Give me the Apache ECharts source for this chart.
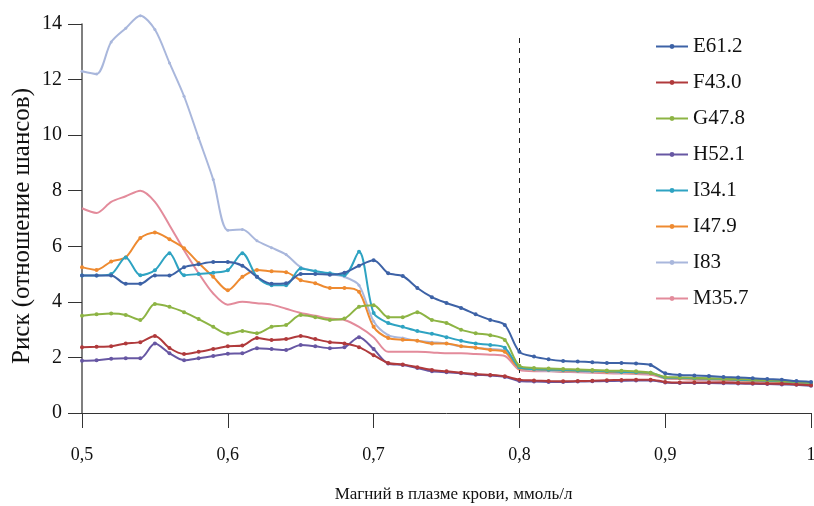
<!DOCTYPE html>
<html>
<head>
<meta charset="utf-8">
<script src="https://cdn.jsdelivr.net/npm/echarts@6/dist/echarts.min.js"></script>
<style>html,body{margin:0;padding:0;background:#fff}#chart{width:814px;height:506px}</style>
</head>
<body>
<div id="chart"></div>
<script>
const magnesium = [0.50,0.51,0.52,0.53,0.54,0.55,0.56,0.57,0.58,0.59,0.60,0.61,0.62,0.63,0.64,0.65,0.66,0.67,0.68,0.69,0.70,0.71,0.72,0.73,0.74,0.75,0.76,0.77,0.78,0.79,0.80,0.81,0.82,0.83,0.84,0.85,0.86,0.87,0.88,0.89,0.90,0.91,0.92,0.93,0.94,0.95,0.96,0.97,0.98,0.99,1.00];

const E61_2 = [4.95,4.95,4.95,4.65,4.65,4.95,4.95,5.25,5.35,5.43,5.43,5.3,4.9,4.65,4.67,5.0,5.0,4.98,5.05,5.3,5.5,5.03,4.93,4.5,4.17,3.96,3.78,3.55,3.35,3.17,2.2,2.03,1.93,1.87,1.85,1.83,1.8,1.8,1.78,1.73,1.43,1.37,1.35,1.33,1.3,1.28,1.25,1.22,1.2,1.15,1.12];
const F43_0 = [2.37,2.38,2.4,2.5,2.55,2.77,2.34,2.12,2.2,2.3,2.4,2.43,2.7,2.63,2.66,2.77,2.66,2.55,2.5,2.37,2.08,1.8,1.75,1.65,1.55,1.5,1.45,1.4,1.37,1.32,1.2,1.17,1.15,1.14,1.15,1.16,1.18,1.19,1.2,1.2,1.12,1.1,1.1,1.1,1.1,1.08,1.07,1.06,1.05,1.03,1.0];
const G47_8 = [3.5,3.55,3.58,3.53,3.35,3.92,3.82,3.63,3.38,3.1,2.85,2.95,2.87,3.1,3.17,3.53,3.45,3.35,3.4,3.82,3.88,3.45,3.45,3.63,3.35,3.24,3.0,2.87,2.8,2.63,1.7,1.62,1.6,1.58,1.57,1.55,1.53,1.52,1.5,1.45,1.3,1.28,1.27,1.25,1.23,1.22,1.2,1.18,1.15,1.12,1.08];
const H52_1 = [1.88,1.9,1.95,1.97,1.97,2.5,2.15,1.9,1.97,2.05,2.13,2.15,2.33,2.3,2.27,2.45,2.4,2.33,2.37,2.73,2.3,1.78,1.73,1.62,1.5,1.47,1.43,1.38,1.35,1.3,1.15,1.13,1.12,1.12,1.13,1.14,1.15,1.16,1.17,1.17,1.1,1.08,1.08,1.08,1.07,1.06,1.05,1.04,1.03,1.02,0.98];
const I34_1 = [4.95,4.95,5.0,5.6,4.96,5.14,5.75,4.96,5.0,5.05,5.14,5.75,4.9,4.6,4.6,5.2,5.1,5.03,4.96,5.8,3.6,3.24,3.1,2.95,2.85,2.73,2.6,2.5,2.45,2.35,1.65,1.58,1.56,1.55,1.53,1.52,1.5,1.48,1.47,1.45,1.28,1.27,1.25,1.24,1.22,1.2,1.18,1.16,1.14,1.11,1.08];
const I47_9 = [5.25,5.15,5.45,5.6,6.3,6.5,6.25,5.93,5.4,4.9,4.42,4.9,5.15,5.1,5.07,4.78,4.67,4.5,4.5,4.36,3.1,2.7,2.64,2.6,2.5,2.5,2.4,2.35,2.27,2.2,1.62,1.57,1.55,1.53,1.52,1.5,1.48,1.47,1.45,1.43,1.27,1.25,1.23,1.22,1.2,1.18,1.16,1.14,1.12,1.1,1.06];
const I83 = [12.3,12.2,13.35,13.85,14.3,13.8,12.6,11.4,9.9,8.4,6.58,6.6,6.2,5.95,5.7,5.25,5.1,5.0,4.9,4.6,3.3,2.8,2.7,2.6,2.55,2.5,2.4,2.35,2.3,2.25,1.6,1.55,1.52,1.5,1.5,1.48,1.47,1.45,1.43,1.42,1.26,1.24,1.22,1.2,1.19,1.17,1.15,1.13,1.11,1.08,1.05];
const M35_7 = [7.37,7.2,7.6,7.8,8.0,7.6,6.76,5.86,5.03,4.3,3.9,4.0,3.95,3.9,3.75,3.6,3.5,3.4,3.35,3.1,2.73,2.2,2.2,2.2,2.18,2.15,2.15,2.12,2.1,2.05,1.55,1.5,1.5,1.48,1.47,1.45,1.43,1.42,1.4,1.38,1.25,1.22,1.2,1.18,1.16,1.15,1.13,1.12,1.1,1.07,1.03];

const seriesNames = ['E61.2','F43.0','G47.8','H52.1','I34.1','I47.9','I83','M35.7'];
const seriesValues = [E61_2,F43_0,G47_8,H52_1,I34_1,I47_9,I83,M35_7];
const xTickLabels = {0.5:'0,5',0.6:'0,6',0.7:'0,7',0.8:'0,8',0.9:'0,9',1:'1'};
const yTicks = [0,2,4,6,8,10,12,14];
const thresholdX = 0.8;
const thresholdTop = 13.6;
const xTitle = 'Магний в плазме крови, ммоль/л';
const yTitle = 'Риск (отношение шансов)';

const colors = ['#3d62a6','#b03a3c','#8db444','#6757a3','#2ea3c2','#ee8a30','#a9b7dc','#e38b9b'];
const serif = '"Liberation Serif","DejaVu Serif",serif';

const series = seriesNames.map((name, i) => ({
  name: name,
  type: 'line',
  data: magnesium.map((x, j) => [x, seriesValues[i][j]]),
  smooth: 0.3,
  clip: false,
  symbol: 'circle',
  symbolSize: name === 'I83' ? 3 : 4,
  showSymbol: name !== 'M35.7',
  lineStyle: {width: 2, color: colors[i]},
  itemStyle: {color: colors[i]},
  z: 10 - i
}));
series[0].markLine = {
  silent: true,
  symbol: ['none','none'],
  label: {show: false},
  lineStyle: {type: [5,5], color: '#222', width: 1},
  data: [[{coord: [thresholdX, 0]}, {coord: [thresholdX, thresholdTop]}]]
};

const chart = echarts.init(document.getElementById('chart'), null, {renderer: 'canvas'});
chart.setOption({
  backgroundColor: '#fff',
  animation: false,
  color: colors,
  grid: {left: 82, right: 3, top: 24, bottom: 93, containLabel: false, outerBoundsMode: 'none'},
  legend: {
    orient: 'vertical',
    left: 650,
    top: 31,
    itemWidth: 32,
    itemHeight: 6,
    itemGap: 15,
    textStyle: {fontFamily: serif, fontSize: 21, color: '#111'},
    data: seriesNames
  },
  graphic: [{
    type: 'text',
    x: 22,
    y: 226,
    rotation: Math.PI / 2,
    style: {x: 0, y: 0, text: yTitle, font: '25px ' + serif, fill: '#111', align: 'center', verticalAlign: 'middle'}
  }],
  xAxis: {
    type: 'value',
    min: 0.5,
    max: 1,
    interval: 0.1,
    name: xTitle,
    nameLocation: 'middle',
    nameGap: 73,
    nameTextStyle: {fontFamily: serif, fontSize: 17, color: '#111', padding: [0, 0, 0, 14]},
    axisLine: {onZero: false, lineStyle: {color: '#333', width: 1}},
    axisTick: {show: true, length: 15, inside: false, lineStyle: {color: '#333'}},
    axisLabel: {
      margin: 33,
      fontFamily: serif,
      fontSize: 18,
      color: '#111',
      formatter: v => xTickLabels[Math.round(v*10)/10] ?? ''
    },
    splitLine: {show: false}
  },
  yAxis: {
    type: 'value',
    min: 0,
    max: 14,
    interval: 2,
    axisLine: {show: true, lineStyle: {color: '#555', width: 1.5}},
    axisTick: {show: true, length: 14, lineStyle: {color: '#333'}},
    axisLabel: {
      margin: 20,
      fontFamily: serif,
      fontSize: 20,
      color: '#111',
      formatter: v => yTicks.includes(v) ? String(v) : ''
    },
    splitLine: {show: false}
  },
  series: series
});
</script>
</body>
</html>
